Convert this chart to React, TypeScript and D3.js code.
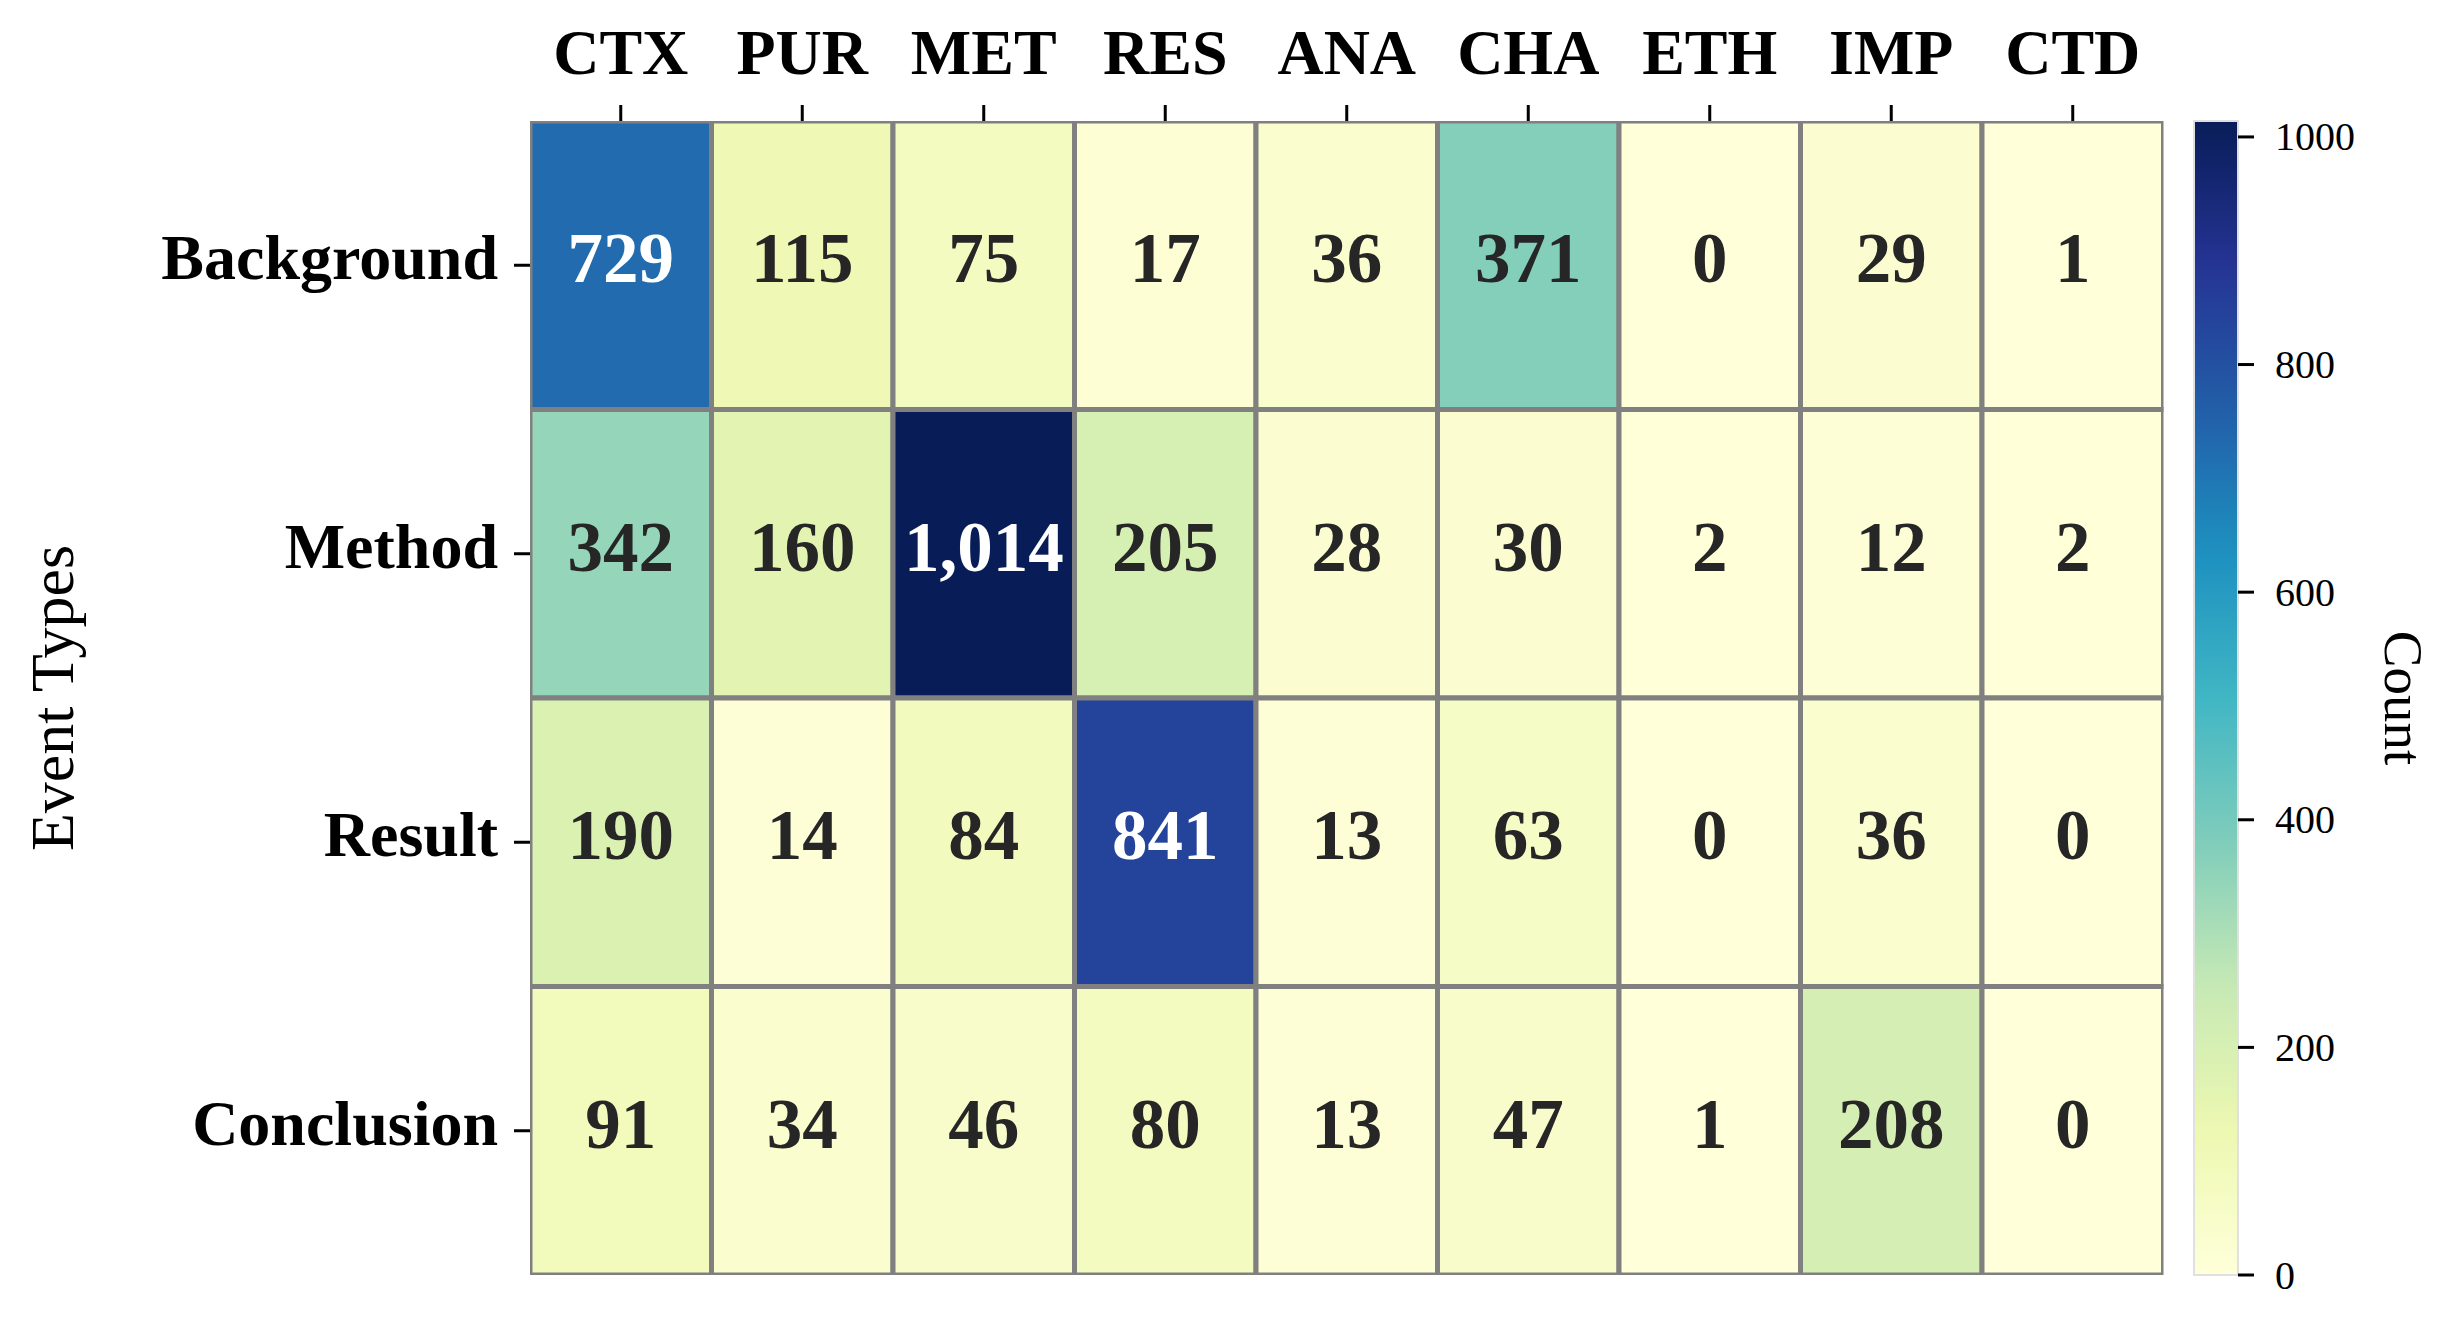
import { useMemo } from "react"
import * as d3 from "d3"

const columns = ["CTX", "PUR", "MET", "RES", "ANA", "CHA", "ETH", "IMP", "CTD"]
const rows = ["Background", "Method", "Result", "Conclusion"]

const backgroundCounts = [729, 115, 75, 17, 36, 371, 0, 29, 1]
const methodCounts = [342, 160, 1014, 205, 28, 30, 2, 12, 2]
const resultCounts = [190, 14, 84, 841, 13, 63, 0, 36, 0]
const conclusionCounts = [91, 34, 46, 80, 13, 47, 1, 208, 0]

const colorbarTicks = [0, 200, 400, 600, 800, 1000]

const FONT = '"Liberation Serif", "Times New Roman", serif'

export default function App() {
    const width = 2454
    const height = 1332

    // heatmap area
    const left = 530
    const right = 2163.5
    const top = 121
    const bottom = 1275

    // colorbar
    const cbX = 2194
    const cbW = 44

    const matrix = [backgroundCounts, methodCounts, resultCounts, conclusionCounts]
    const vmax = d3.max(matrix.flat()) || 1

    const x = d3.scaleBand().domain(columns).range([left, right]).padding(0)
    const y = d3.scaleBand().domain(rows).range([top, bottom]).padding(0)

    const palette = d3.schemeYlGnBu[9] as string[]
    const color = useMemo(
        () =>
            d3
                .scaleLinear<string>()
                .domain(palette.map((_, i) => (i / (palette.length - 1)) * vmax))
                .range(palette)
                .interpolate(d3.interpolateRgb)
                .clamp(true),
        [vmax]
    )

    const cbScale = d3.scaleLinear().domain([0, vmax]).range([bottom, top])

    // seaborn-style text colour switch on luminance
    const textColor = (c: string) => {
        const rgb = d3.rgb(c)
        const lin = (v: number) => {
            const s = v / 255
            return s <= 0.03928 ? s / 12.92 : Math.pow((s + 0.055) / 1.055, 2.4)
        }
        const lum = 0.2126 * lin(rgb.r) + 0.7152 * lin(rgb.g) + 0.0722 * lin(rgb.b)
        return lum > 0.408 ? "#262626" : "#ffffff"
    }

    const fmt = d3.format(",")
    const gradStops = d3.range(0, 1.0001, 0.02)

    return (
        <svg
            width={width}
            height={height}
            viewBox={`0 0 ${width} ${height}`}
            style={{ position: "absolute", left: 0, top: 0, background: "#fff" }}
            fontFamily={FONT}
        >
            <defs>
                <clipPath id="hm-clip">
                    <rect x={left} y={top} width={right - left} height={bottom - top} />
                </clipPath>
                <linearGradient id="cb-grad" x1="0" y1="1" x2="0" y2="0">
                    {gradStops.map((t) => (
                        <stop key={t} offset={`${t * 100}%`} stopColor={color(t * vmax)} />
                    ))}
                </linearGradient>
            </defs>

            {/* cells */}
            <g clipPath="url(#hm-clip)">
                {rows.map((r, ri) =>
                    columns.map((c, ci) => (
                        <rect
                            key={`${r}-${c}`}
                            x={x(c)}
                            y={y(r)}
                            width={x.bandwidth()}
                            height={y.bandwidth()}
                            fill={color(matrix[ri][ci])}
                            stroke="#808080"
                            strokeWidth={5}
                        />
                    ))
                )}
            </g>

            {/* annotations */}
            {rows.map((r, ri) =>
                columns.map((c, ci) => {
                    const v = matrix[ri][ci]
                    return (
                        <text
                            key={`t-${r}-${c}`}
                            x={(x(c) || 0) + x.bandwidth() / 2}
                            y={(y(r) || 0) + y.bandwidth() / 2 - 7}
                            textAnchor="middle"
                            dominantBaseline="central"
                            fontSize={71}
                            fontWeight="bold"
                            fill={textColor(color(v))}
                        >
                            {fmt(v)}
                        </text>
                    )
                })
            )}

            {/* top axis */}
            {columns.map((c) => {
                const cx = (x(c) || 0) + x.bandwidth() / 2
                return (
                    <g key={`xt-${c}`}>
                        <line x1={cx} x2={cx} y1={top} y2={top - 16} stroke="#000" strokeWidth={3} />
                        <text x={cx} y={74} textAnchor="middle" fontSize={64} fontWeight="bold" fill="#000">
                            {c}
                        </text>
                    </g>
                )
            })}

            {/* left axis */}
            {rows.map((r) => {
                const cy = (y(r) || 0) + y.bandwidth() / 2
                return (
                    <g key={`yt-${r}`}>
                        <line x1={left} x2={left - 16} y1={cy} y2={cy} stroke="#000" strokeWidth={3} />
                        <text
                            x={left - 32}
                            y={cy + 14}
                            textAnchor="end"
                            fontSize={64}
                            fontWeight="bold"
                            fill="#000"
                        >
                            {r}
                        </text>
                    </g>
                )
            })}

            <text
                transform={`translate(73, ${(top + bottom) / 2}) rotate(-90)`}
                textAnchor="middle"
                fontSize={62}
                fill="#000"
            >
                Event Types
            </text>

            {/* colorbar */}
            <rect x={cbX} y={top} width={cbW} height={bottom - top} fill="url(#cb-grad)" stroke="#e0e0e0" strokeWidth={2} />
            {colorbarTicks.map((t) => (
                <g key={`cb-${t}`}>
                    <line x1={cbX + cbW} x2={cbX + cbW + 16} y1={cbScale(t)} y2={cbScale(t)} stroke="#000" strokeWidth={3} />
                    <text x={cbX + cbW + 37} y={cbScale(t)} dominantBaseline="central" fontSize={40} fill="#000">
                        {t}
                    </text>
                </g>
            ))}
            <text
                transform={`translate(2385, ${(top + bottom) / 2}) rotate(90)`}
                textAnchor="middle"
                fontSize={55}
                fill="#000"
            >
                Count
            </text>
        </svg>
    )
}
